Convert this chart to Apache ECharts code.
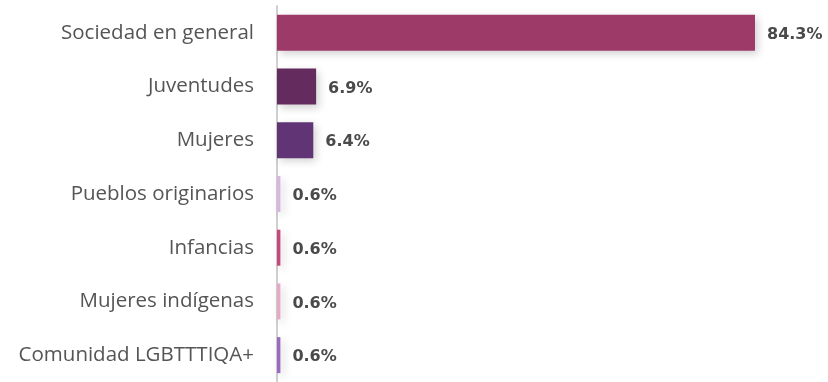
<!DOCTYPE html>
<html>
<head>
<meta charset="utf-8">
<script src="https://cdn.jsdelivr.net/npm/echarts@6/dist/echarts.min.js"></script>
<style>
  html, body { margin: 0; padding: 0; background: #ffffff; }
  #chart { width: 828px; height: 382px; }
</style>
</head>
<body>
<div id="chart"></div>
<script>
// Categories listed top to bottom
const categories = [
  'Sociedad en general',
  'Juventudes',
  'Mujeres',
  'Pueblos originarios',
  'Infancias',
  'Mujeres indígenas',
  'Comunidad LGBTTTIQA+'
];
// Share of each group, in percent
const values = [84.3, 6.9, 6.4, 0.6, 0.6, 0.6, 0.6];
// One colour per bar
const barColors = ['#9e3a67', '#632b5e', '#613476', '#d9b6e2', '#c8467d', '#e8a9c8', '#9b69c0'];

const chart = echarts.init(document.getElementById('chart'), null, { renderer: 'canvas' });

chart.setOption({
  animation: false,
  grid: { left: 277, right: 73, top: 6, bottom: 0, containLabel: false },
  xAxis: {
    type: 'value',
    min: 0,
    max: 84.3,
    show: false
  },
  yAxis: {
    type: 'category',
    data: categories,
    inverse: true,
    axisLine: { show: true, lineStyle: { color: '#d0d0d0', width: 2 } },
    axisTick: { show: false },
    splitLine: { show: false },
    axisLabel: {
      margin: 23,
      color: '#555555',
      fontFamily: 'Open Sans',
      fontSize: 20.5
    }
  },
  series: [{
    type: 'bar',
    data: values.map((v, i) => ({ value: v, itemStyle: { color: barColors[i] } })),
    barWidth: '67%',
    itemStyle: {
      shadowColor: 'rgba(0,0,0,0.18)',
      shadowBlur: 8,
      shadowOffsetX: 3,
      shadowOffsetY: 3
    },
    label: {
      show: true,
      position: 'right',
      distance: 12,
      offset: [0, 2],
      formatter: p => p.value.toFixed(1) + '%',
      color: '#4a4a4a',
      fontFamily: 'DejaVu Sans',
      fontWeight: 'bold',
      fontSize: 16
    }
  }]
});
</script>
</body>
</html>
